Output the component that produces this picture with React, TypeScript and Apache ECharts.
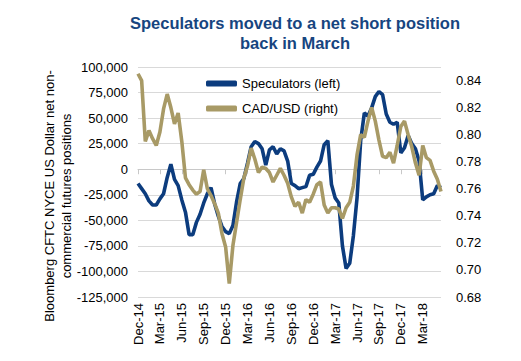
import React, { useEffect, useRef } from "react";
import * as echarts from "echarts";

const months = [
  "Dec-14", "Jan-15", "Feb-15", "Mar-15", "Apr-15", "May-15", "Jun-15", "Jul-15", "Aug-15", "Sep-15", "Oct-15", "Nov-15",
  "Dec-15", "Jan-16", "Feb-16", "Mar-16", "Apr-16", "May-16", "Jun-16", "Jul-16", "Aug-16", "Sep-16", "Oct-16", "Nov-16",
  "Dec-16", "Jan-17", "Feb-17", "Mar-17", "Apr-17", "May-17", "Jun-17", "Jul-17", "Aug-17", "Sep-17", "Oct-17", "Nov-17",
  "Dec-17", "Jan-18", "Feb-18", "Mar-18", "Apr-18", "May-18",
];
// two observations per month: the month label and a mid-month point
const categories = months.flatMap((m) => [m, m + " mid"]);

// Speculators net non-commercial positions (left axis)
const speculators = [
  -14000, -19000, -24000, -31000, -35000, -35000, -29000, -24000, -8000, 5000,
  -10000, -16000, -30000, -42000, -64000, -64000, -52000, -44000, -33000, -24000,
  -18000, -34000, -46000, -56000, -61000, -63000, -55000, -32000, -14000, -9000,
  6000, 22000, 27000, 25000, 20000, 4000, 19000, 22000, 15000, 20000,
  18000, 8000, -14000, -16000, -19000, -18000, -17000, -6000, -5000, 2000,
  8000, 24000, 28000, -15000, -28000, -33000, -75000, -97000, -92000, -65000,
  -28000, 28000, 55000, 52000, 60000, 71000, 76000, 73000, 54000, 46000,
  44000, 46000, 16000, 21000, 33000, 25000, 20000, 8000, -30000, -27000,
  -25000, -24000, -16000, -18000,
];

// CAD/USD (right axis)
const cadusd = [
  0.845, 0.84, 0.795, 0.803, 0.797, 0.792, 0.802, 0.819, 0.83, 0.82,
  0.808, 0.816, 0.795, 0.768, 0.763, 0.759, 0.756, 0.758, 0.774, 0.76,
  0.755, 0.749, 0.742, 0.727, 0.717, 0.69, 0.718, 0.735, 0.752, 0.768,
  0.777, 0.79, 0.782, 0.772, 0.776, 0.775, 0.772, 0.765, 0.77, 0.775,
  0.77, 0.764, 0.754, 0.747, 0.75, 0.742, 0.752, 0.75, 0.756, 0.763,
  0.765, 0.748, 0.742, 0.746, 0.746, 0.745, 0.738, 0.746, 0.75, 0.762,
  0.785, 0.8, 0.798, 0.81, 0.82, 0.81, 0.796, 0.784, 0.783, 0.787,
  0.779, 0.792, 0.806, 0.81, 0.8, 0.791, 0.779, 0.77, 0.792, 0.783,
  0.781, 0.773, 0.767, 0.758,
];

const FONT = "'Liberation Sans', Arial, sans-serif";
const BLUE = "#0c3c7e";
const TAN = "#a89a66";

export default function App() {
  const ref = useRef<HTMLDivElement>(null);
  useEffect(() => {
    if (!ref.current) return;
    const chart = echarts.init(ref.current, null, { renderer: "svg" });
    const quarterly = (idx: number) => idx % 6 === 0;
    chart.setOption({
      animation: false,
      backgroundColor: "#ffffff",
      title: {
        text: "Speculators moved to a net short position\nback in March",
        left: 290,
        top: 8,
        textAlign: "center",
        textStyle: {
          fontFamily: FONT,
          fontSize: 16.5,
          fontWeight: "bold",
          color: "#17457f",
          lineHeight: 20,
        },
      },
      legend: {
        orient: "vertical",
        left: 201,
        top: 72,
        itemWidth: 31,
        itemHeight: 6,
        itemGap: 12,
        icon: "roundRect",
        textStyle: { fontFamily: FONT, fontSize: 13, color: "#000" },
        data: ["Speculators (left)", "CAD/USD (right)"],
      },
      grid: { left: 138, right: 80, top: 67, bottom: 64, containLabel: false },
      xAxis: [
        {
          type: "category",
          data: categories,
          boundaryGap: false,
          position: "bottom",
          axisLine: { show: false, onZero: false },
          axisTick: { show: false },
          splitLine: { show: false },
          axisLabel: {
            interval: quarterly,
            rotate: 90,
            margin: 6,
            fontFamily: FONT,
            fontSize: 13,
            color: "#000",
          },
        },
        {
          type: "category",
          data: categories,
          boundaryGap: false,
          position: "bottom",
          axisLine: { show: true, onZero: true, lineStyle: { color: "#c8c8c8", width: 1 } },
          axisTick: { show: true, interval: quarterly, length: 5, lineStyle: { color: "#c8c8c8" } },
          axisLabel: { show: false },
          splitLine: { show: false },
        },
      ],
      yAxis: [
        {
          type: "value",
          min: -125000,
          max: 100000,
          interval: 25000,
          axisLine: { show: false },
          axisTick: { show: false },
          splitLine: { show: true, lineStyle: { color: "#d9d9d9", width: 1 } },
          axisLabel: {
            margin: 10,
            fontFamily: FONT,
            fontSize: 13,
            color: "#000",
            formatter: (v: number) => v.toLocaleString("en-US"),
          },
        },
        {
          type: "value",
          position: "right",
          min: 0.68,
          max: 0.85,
          interval: 0.02,
          axisLine: { show: false },
          axisTick: { show: false },
          splitLine: { show: false },
          axisLabel: {
            margin: 15,
            showMaxLabel: false,
            fontFamily: FONT,
            fontSize: 13,
            color: "#000",
            formatter: (v: number) => v.toFixed(2),
          },
        },
      ],
      graphic: [
        {
          type: "text",
          x: 58,
          y: 196,
          rotation: Math.PI / 2,
          style: {
            text: "Bloomberg CFTC NYCE US Dollar net non-\ncommercial futures positions",
            align: "center",
            verticalAlign: "middle",
            fontFamily: FONT,
            fontSize: 13,
            lineHeight: 17,
            fill: "#000",
          },
        },
      ],
      series: [
        {
          name: "Speculators (left)",
          type: "line",
          xAxisIndex: 0,
          yAxisIndex: 0,
          data: speculators,
          showSymbol: false,
          symbol: "none",
          lineStyle: { color: BLUE, width: 3.6 },
          itemStyle: { color: BLUE },
        },
        {
          name: "CAD/USD (right)",
          type: "line",
          xAxisIndex: 0,
          yAxisIndex: 1,
          data: cadusd,
          showSymbol: false,
          symbol: "none",
          lineStyle: { color: TAN, width: 3.6 },
          itemStyle: { color: TAN },
        },
      ],
    });
    return () => chart.dispose();
  }, []);
  return <div ref={ref} style={{ width: 521, height: 361, position: "fixed", left: 0, top: 0 }} />;
}
